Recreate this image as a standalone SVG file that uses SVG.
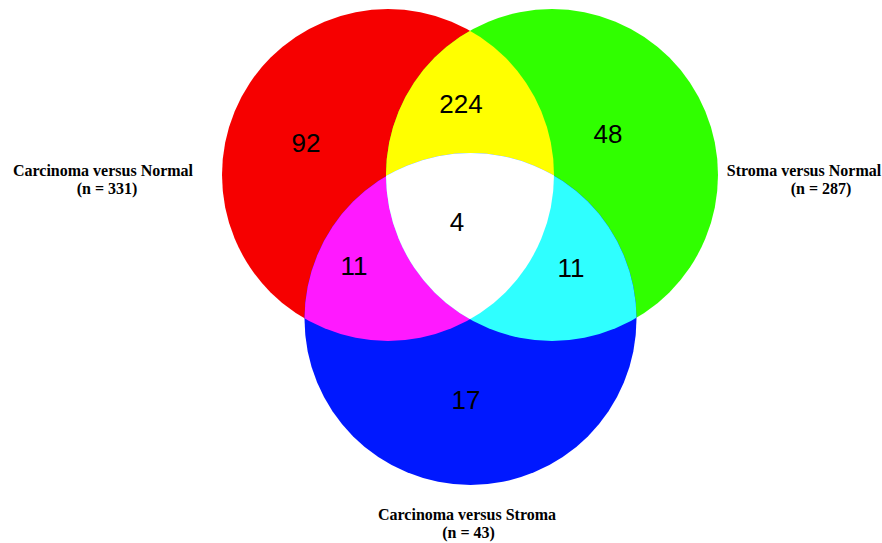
<svg xmlns="http://www.w3.org/2000/svg" width="882" height="543" viewBox="0 0 882 543">
<style>
.num{font-family:"Liberation Sans",Arial,sans-serif;font-size:26px;fill:#000;text-anchor:middle}
.lbl{font-family:"Liberation Serif","Times New Roman",serif;font-size:16px;font-weight:bold;fill:#000;text-anchor:middle}
</style>
<defs>
<clipPath id="cR"><circle cx="388" cy="175" r="166"/></clipPath>
<clipPath id="cG"><circle cx="552" cy="175" r="166"/></clipPath>
<clipPath id="cB"><circle cx="470.5" cy="319" r="166"/></clipPath>
</defs>
<rect width="882" height="543" fill="#fff"/>
<g id="sets">
<circle id="red" cx="388" cy="175" r="166" fill="#F60000"/>
<circle id="green" cx="552" cy="175" r="166" fill="#30FF00"/>
<circle id="blue" cx="470.5" cy="319" r="166" fill="#0018FF"/>
<g clip-path="url(#cR)"><circle id="yellow" cx="552" cy="175" r="166" fill="#FFFF00"/></g>
<g clip-path="url(#cR)"><circle id="magenta" cx="470.5" cy="319" r="166" fill="#FF19FF"/></g>
<g clip-path="url(#cG)"><circle id="cyan" cx="470.5" cy="319" r="166" fill="#2FFFFF"/></g>
<g clip-path="url(#cR)"><g clip-path="url(#cG)"><circle id="white" cx="470.5" cy="319" r="166" fill="#FFFFFF"/></g></g>
</g>
<g id="counts">
<text class="num" x="306" y="152">92</text>
<text class="num" x="461" y="113">224</text>
<text class="num" x="608" y="143">48</text>
<text class="num" x="457" y="231">4</text>
<text class="num" x="354" y="275">11</text>
<text class="num" x="571" y="277">11</text>
<text class="num" x="466" y="409">17</text>
</g>
<g id="label-cn">
<text class="lbl" x="103" y="176">Carcinoma versus Normal</text>
<text class="lbl" x="107" y="194">(n = 331)</text>
</g>
<g id="label-sn">
<text class="lbl" x="804" y="176">Stroma versus Normal</text>
<text class="lbl" x="821" y="194">(n = 287)</text>
</g>
<g id="label-cs">
<text class="lbl" x="467" y="520">Carcinoma versus Stroma</text>
<text class="lbl" x="468.5" y="538">(n = 43)</text>
</g>
</svg>
